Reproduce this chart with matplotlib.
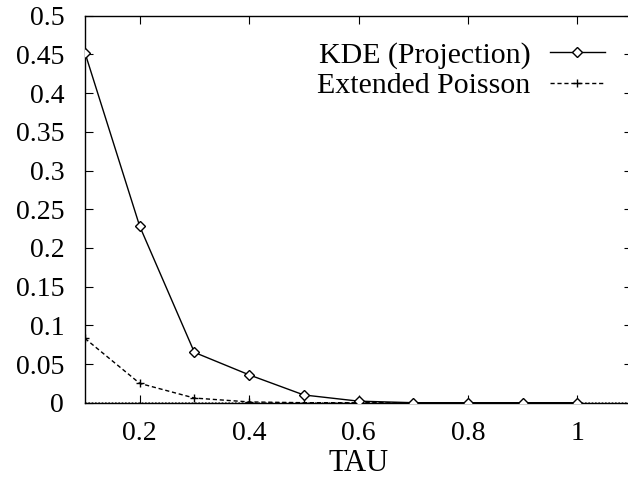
import matplotlib
matplotlib.use("Agg")
import matplotlib.pyplot as plt

tau = [0.1, 0.2, 0.3, 0.4, 0.5, 0.6, 0.7, 0.8, 0.9, 1.0]
kde_projection = [0.452, 0.228, 0.065, 0.036, 0.010, 0.002, 0.0, 0.0, 0.0, 0.0]
extended_poisson = [0.083, 0.025, 0.006, 0.001, 0.0, 0.0, 0.0, 0.0, 0.0, 0.0]

x_ticks = [0.2, 0.4, 0.6, 0.8, 1.0]
x_labels = ["0.2", "0.4", "0.6", "0.8", "1"]
y_ticks = [0, 0.05, 0.1, 0.15, 0.2, 0.25, 0.3, 0.35, 0.4, 0.45, 0.5]
y_labels = ["0", "0.05", "0.1", "0.15", "0.2", "0.25", "0.3", "0.35", "0.4", "0.45", "0.5"]

plt.rcParams["font.family"] = ["Liberation Serif", "DejaVu Serif"]

W, H = 628, 478
fig = plt.figure(figsize=(W / 100, H / 100), dpi=100)
# plot box in pixels: left 85, right 632 (past the edge), top 15.7, bottom 402.7
ax = fig.add_axes([85 / W, (H - 402.7) / H, (632 - 85) / W, (402.7 - 15.7) / H])

ax.axhline(0, color="#555555", lw=1.2, ls=(0, (1, 1)), zorder=1)
ax.plot(tau, kde_projection, color="black", lw=1.0, marker="D", ms=5,
        mfc="white", mec="black", mew=1.0, label="KDE (Projection)", zorder=3)
ax.plot(tau, extended_poisson, color="black", lw=1.0, ls=(0, (3, 2)),
        marker="+", ms=6, mew=1.0, label="Extended Poisson", zorder=2)

ax.set_xlim(0.1, 1.1)
ax.set_ylim(0, 0.5)
ax.set_xticks(x_ticks)
ax.set_xticklabels(x_labels)
ax.set_yticks(y_ticks)
ax.set_yticklabels(y_labels)
ax.tick_params(direction="in", length=6, width=0.8, top=True, right=True,
               labelsize=20, colors="black")
ax.tick_params(axis="x", pad=13.5)
ax.tick_params(axis="y", pad=15)
for s in ax.spines.values():
    s.set_linewidth(1.0)

ax.set_xlabel("TAU", fontsize=22, labelpad=1.5)

ax.legend(loc="upper right", bbox_to_anchor=(620 / W, (H - 27) / H),
          bbox_transform=fig.transFigure, frameon=False, markerfirst=False,
          fontsize=21.5, handlelength=1.85, handletextpad=0.65, labelspacing=0.1,
          borderpad=0)

fig.savefig("out.png", dpi=100)
